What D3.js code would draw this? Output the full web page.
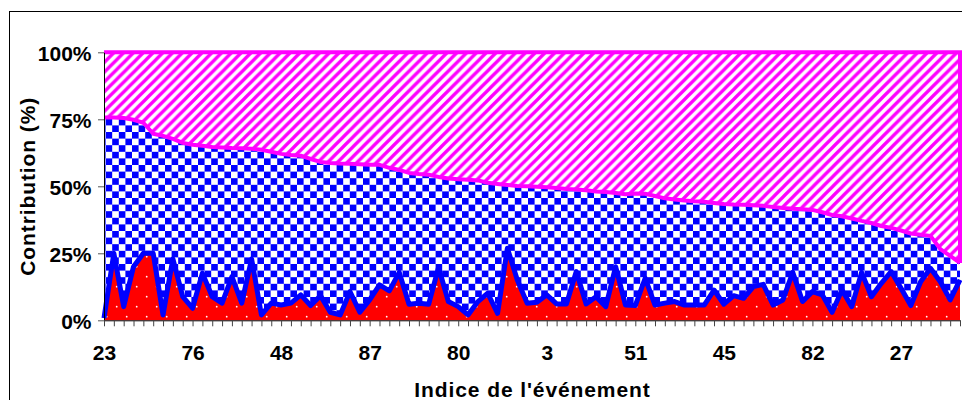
<!DOCTYPE html>
<html>
<head>
<meta charset="utf-8">
<script src="https://cdn.jsdelivr.net/npm/d3@7"></script>
<style>
  html, body { margin: 0; padding: 0; background: #fff; }
  svg { display: block; font-family: "Liberation Sans", Arial, sans-serif; }
</style>
</head>
<body>
<svg id="chart" width="962" height="400"></svg>
<script>
// ---- Data ----
const tickLabels = ["23", "76", "48", "87", "80", "3", "51", "45", "82", "27"];
const labelStep = 9;
const seriesKeys = ["rouge", "bleu", "magenta"];
const redVals = [
  0.8, 25.0, 5.1, 20.0, 25.0, 25.0, 2.0, 22.9, 8.8, 4.5,
  17.6, 8.8, 6.4, 16.3, 6.4, 22.9, 2.0, 6.4, 5.7, 6.4,
  9.5, 5.5, 9.2, 3.0, 2.0, 10.7, 3.0, 7.6, 13.2, 11.0,
  17.9, 6.0, 6.4, 6.0, 19.7, 7.0, 5.1, 2.0, 7.0, 10.1,
  2.6, 26.9, 15.1, 6.4, 6.7, 9.5, 6.1, 6.1, 18.2, 6.1,
  8.8, 5.1, 20.0, 5.7, 5.5, 15.7, 5.7, 6.4, 7.0, 5.7,
  5.7, 5.7, 11.3, 6.0, 9.2, 8.2, 12.6, 13.4, 5.7, 7.6,
  17.9, 7.0, 10.7, 9.5, 3.0, 11.3, 5.1, 17.9, 8.8, 13.8,
  18.2, 12.0, 5.5, 14.4, 19.4, 14.4, 7.6, 15.1
];
const blueVals = [
  74.9, 50.7, 70.4, 54.8, 48.7, 44.6, 66.8, 44.8, 57.4, 61.0,
  47.5, 55.9, 58.1, 48.0, 57.8, 41.1, 61.6, 56.5, 56.4, 55.3,
  51.9, 54.7, 49.9, 55.7, 56.5, 47.7, 55.2, 50.4, 44.8, 45.9,
  38.2, 49.0, 48.2, 48.3, 33.8, 45.9, 47.5, 50.4, 45.2, 41.2,
  48.3, 23.6, 35.0, 43.6, 43.1, 40.1, 43.3, 42.9, 30.6, 42.4,
  39.3, 42.8, 27.5, 41.3, 41.8, 31.5, 40.7, 39.1, 38.1, 39.0,
  38.7, 38.5, 32.5, 37.4, 34.0, 34.9, 30.3, 29.3, 36.6, 34.3,
  23.7, 34.4, 30.5, 30.8, 36.3, 27.5, 32.9, 19.2, 27.5, 21.4,
  16.3, 21.5, 26.9, 17.5, 12.1, 12.2, 16.4, 6.3
];
const magentaVals = [
  24.3, 24.3, 24.5, 25.2, 26.3, 30.4, 31.2, 32.3, 33.8, 34.5,
  34.9, 35.3, 35.5, 35.7, 35.8, 36.0, 36.4, 37.1, 37.9, 38.3,
  38.6, 39.8, 40.9, 41.3, 41.5, 41.6, 41.8, 42.0, 42.0, 43.1,
  43.9, 45.0, 45.4, 45.7, 46.5, 47.1, 47.4, 47.6, 47.8, 48.7,
  49.1, 49.5, 49.9, 50.0, 50.2, 50.4, 50.6, 51.0, 51.2, 51.5,
  51.9, 52.1, 52.5, 53.0, 52.7, 52.8, 53.6, 54.5, 54.9, 55.3,
  55.6, 55.8, 56.2, 56.6, 56.8, 56.9, 57.1, 57.3, 57.7, 58.1,
  58.4, 58.6, 58.8, 59.7, 60.7, 61.2, 62.0, 62.9, 63.7, 64.8,
  65.5, 66.5, 67.6, 68.1, 68.5, 73.4, 76.0, 78.6
];
const yTicks = [0, 25, 50, 75, 100];

// ---- Build table ----
const rows = redVals.map((r, i) => ({ idx: i, rouge: r, bleu: blueVals[i], magenta: magentaVals[i] }));
const stacked = d3.stack().keys(seriesKeys).offset(d3.stackOffsetExpand)(rows);

const svg = d3.select("#chart");
const pL = 104, pR = 960, pT = 52.3, pB = 320.3;

const x = d3.scalePoint().domain(rows.map(d => d.idx)).range([pL, pR]).padding(0);
const y = d3.scaleLinear().domain([0, 1]).range([pB, pT]);

// Frame
svg.append("rect").attr("x", 9.5).attr("y", 11.5).attr("width", 1000).attr("height", 500)
  .attr("fill", "none").attr("stroke", "#000").attr("stroke-width", 1);

// Patterns
const defs = svg.append("defs");
const pDots = defs.append("pattern").attr("id", "dots").attr("patternUnits", "userSpaceOnUse")
  .attr("width", 20).attr("height", 20);
pDots.append("rect").attr("width", 20).attr("height", 20).attr("fill", "#FF0000");
pDots.append("circle").attr("cx", 6.7).attr("cy", 16.7).attr("r", 0.9).attr("fill", "#fff");
pDots.append("circle").attr("cx", 16.7).attr("cy", 6.7).attr("r", 0.9).attr("fill", "#fff");

const C = 6.6;
const pChk = defs.append("pattern").attr("id", "checker").attr("patternUnits", "userSpaceOnUse")
  .attr("width", 2 * C).attr("height", 2 * C);
pChk.append("rect").attr("width", 2 * C).attr("height", 2 * C).attr("fill", "#fff");
pChk.append("rect").attr("width", C).attr("height", C).attr("fill", "#0000FF");
pChk.append("rect").attr("x", C).attr("y", C).attr("width", C).attr("height", C).attr("fill", "#0000FF");

const P = 9.8;
const pStr = defs.append("pattern").attr("id", "stripes").attr("patternUnits", "userSpaceOnUse")
  .attr("width", P).attr("height", P);
pStr.append("rect").attr("width", P).attr("height", P).attr("fill", "#fff");
pStr.append("path")
  .attr("d", `M0,${P} L${P},0 M${-P/2},${P/2} L${P/2},${-P/2} M${P/2},${1.5*P} L${1.5*P},${P/2}`)
  .attr("stroke", "#FF00FF").attr("stroke-width", 3.3);

const fills = ["url(#dots)", "url(#checker)", "url(#stripes)"];

const area = d3.area()
  .x(d => x(d.data.idx))
  .y0(d => y(d[0]))
  .y1(d => y(d[1]));

svg.append("g").selectAll("path").data(stacked).join("path")
  .attr("d", area)
  .attr("fill", (d, i) => fills[i]);

// Lines
const topLine = d3.line().x(d => x(d.data.idx)).y(d => y(d[1]));
svg.append("path").datum(stacked[0]).attr("d", topLine)
  .attr("fill", "none").attr("stroke", "#0000FF").attr("stroke-width", 5)
  .attr("stroke-linejoin", "round");
svg.append("path").datum(stacked[1]).attr("d", topLine)
  .attr("fill", "none").attr("stroke", "#FF00FF").attr("stroke-width", 4)
  .attr("stroke-linejoin", "round");
// top border of the upper series with its right edge
const lastPt = stacked[1][stacked[1].length - 1];
svg.append("path")
  .attr("d", topLine(stacked[2]) + ` L${x(lastPt.data.idx)},${y(lastPt[1])}`)
  .attr("fill", "none").attr("stroke", "#FF00FF").attr("stroke-width", 4)
  .attr("stroke-linejoin", "miter");

// Axes
const yAxis = d3.axisLeft(y).tickValues(yTicks.map(v => v / 100))
  .tickFormat(v => Math.round(v * 100) + "%").tickSize(6).tickSizeOuter(0).tickPadding(6.5);
const gy = svg.append("g").attr("transform", `translate(${pL},0)`).call(yAxis);
gy.select(".domain").attr("stroke", "#000");
gy.selectAll(".tick line").attr("stroke", "#555");
gy.selectAll("text").attr("font-size", 21).attr("font-weight", "bold").attr("fill", "#000")
  .attr("font-family", "'Liberation Sans', Arial, sans-serif").attr("dy", "0.38em");

const xAxis = d3.axisBottom(x).tickSize(6).tickSizeOuter(0).tickPadding(19)
  .tickFormat(i => (i % labelStep === 0 && tickLabels[i / labelStep] !== undefined) ? tickLabels[i / labelStep] : "");
const gx = svg.append("g").attr("transform", `translate(0,${pB})`).call(xAxis);
gx.select(".domain").attr("stroke", "#000");
gx.selectAll(".tick line").attr("stroke", "#444");
gx.selectAll("text").attr("font-size", 21).attr("font-weight", "bold").attr("fill", "#000")
  .attr("font-family", "'Liberation Sans', Arial, sans-serif");

// Titles
svg.append("text").attr("x", (pL + pR) / 2 + 0.5).attr("y", 396.5)
  .attr("text-anchor", "middle").attr("font-size", 21).attr("font-weight", "bold")
  .attr("letter-spacing", 0.9).text("Indice de l'événement");
svg.append("text").attr("transform", `translate(34.5,${(pT + pB) / 2}) rotate(-90)`)
  .attr("text-anchor", "middle").attr("font-size", 21).attr("font-weight", "bold")
  .attr("letter-spacing", 0.9).text("Contribution (%)");
</script>
</body>
</html>
